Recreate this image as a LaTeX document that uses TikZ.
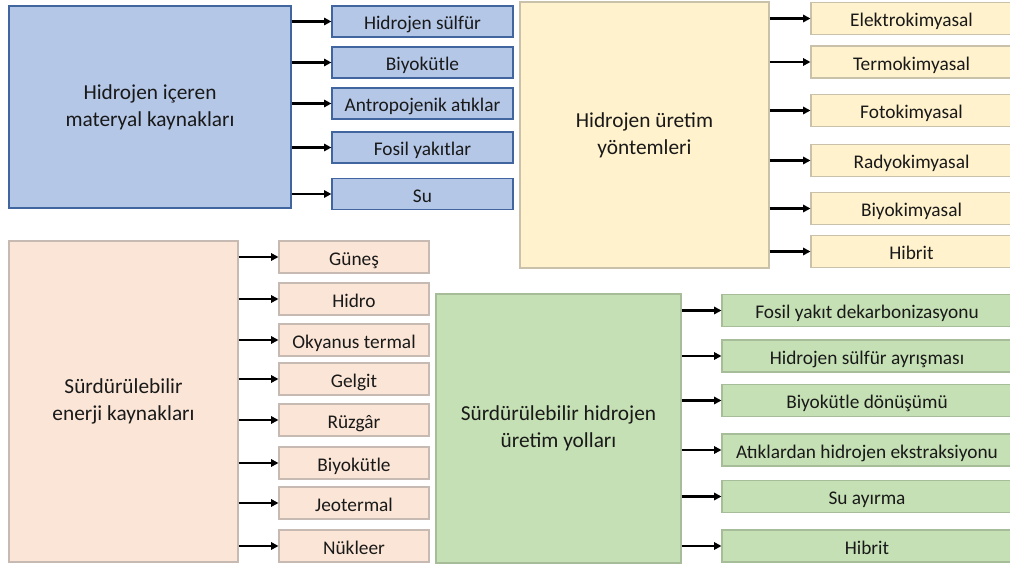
\documentclass[tikz,border=0pt]{standalone}
\usepackage{fontspec}
\setmainfont{Carlito}
\usetikzlibrary{arrows.meta}

\definecolor{bluefill}{HTML}{B4C7E7}
\definecolor{blueedge}{HTML}{41659F}
\definecolor{yelfill}{HTML}{FFF2CC}
\definecolor{yeledge}{HTML}{C9C1AA}
\definecolor{peachfill}{HTML}{FBE5D6}
\definecolor{peachedge}{HTML}{C6BAB2}
\definecolor{greenfill}{HTML}{C5E0B4}
\definecolor{greenedge}{HTML}{A7BD99}

\begin{document}
\begin{tikzpicture}[x=0.75pt, y=-0.75pt,
  bigbox/.style={rectangle, align=center, text=black!90, font=\fontsize{16}{20}\selectfont},
  itembox/.style={rectangle, align=center, text=black!90, minimum height=24pt,
    inner sep=0pt, text height=13pt, text depth=1pt, font=\fontsize{14.5}{16}\selectfont},
  blueset/.style={draw=blueedge, fill=bluefill, line width=0.9pt},
  yelset/.style={draw=yeledge, fill=yelfill, line width=0.8pt},
  peachset/.style={draw=peachedge, fill=peachfill, line width=0.8pt},
  greenset/.style={draw=greenedge, fill=greenfill, line width=0.8pt},
  arr/.style={-{Triangle[length=5.5pt, width=5.5pt]}, line width=1.6pt, black}
]
  \useasboundingbox (0,0) rectangle (1010,567);

  % Hidrojen iceren materyal kaynaklari
  \node[bigbox, blueset, minimum width=211.5pt, minimum height=151.5pt] (mat) at (150,107)
    {Hidrojen içeren\\materyal kaynakları};
  \node[itembox, blueset, minimum width=135.75pt, minimum height=23.25pt] (mat1) at (422.5,21.5)  {Hidrojen sülfür};
  \node[itembox, blueset, minimum width=135.75pt, minimum height=23.25pt] (mat2) at (422.5,62.5)  {Biyokütle};
  \node[itembox, blueset, minimum width=135.75pt, minimum height=23.25pt] (mat3) at (422.5,103.5) {Antropojenik atıklar};
  \node[itembox, blueset, minimum width=135.75pt, minimum height=23.25pt] (mat4) at (422.5,147.5) {Fosil yakıtlar};
  \node[itembox, blueset, minimum width=135.75pt, minimum height=23.25pt] (mat5) at (422.5,194)   {Su};

  % Hidrojen uretim yontemleri
  \node[bigbox, yelset, minimum width=186.75pt, minimum height=199.5pt] (ure) at (644.5,135)
    {Hidrojen üretim\\yöntemleri};
  \node[itembox, yelset, minimum width=150.75pt] (ure1) at (911.5,18.5)  {Elektrokimyasal};
  \node[itembox, yelset, minimum width=150.75pt] (ure2) at (911.5,62)    {Termokimyasal};
  \node[itembox, yelset, minimum width=150.75pt] (ure3) at (911.5,110.5) {Fotokimyasal};
  \node[itembox, yelset, minimum width=150.75pt] (ure4) at (911.5,160.5) {Radyokimyasal};
  \node[itembox, yelset, minimum width=150.75pt] (ure5) at (911.5,208.5) {Biyokimyasal};
  \node[itembox, yelset, minimum width=150.75pt] (ure6) at (911.5,251.5) {Hibrit};

  % Surdurulebilir enerji kaynaklari
  \node[bigbox, peachset, minimum width=171.75pt, minimum height=240.75pt] (enj) at (123.5,401.5)
    {Sürdürülebilir\\enerji kaynakları};
  \node[itembox, peachset, minimum width=112.5pt] (enj1) at (354,257) {Güneş};
  \node[itembox, peachset, minimum width=112.5pt] (enj2) at (354,299) {Hidro};
  \node[itembox, peachset, minimum width=112.5pt] (enj3) at (354,340) {Okyanus termal};
  \node[itembox, peachset, minimum width=112.5pt] (enj4) at (354,379) {Gelgit};
  \node[itembox, peachset, minimum width=112.5pt] (enj5) at (354,420) {Rüzgâr};
  \node[itembox, peachset, minimum width=112.5pt] (enj6) at (354,463) {Biyokütle};
  \node[itembox, peachset, minimum width=112.5pt] (enj7) at (354,503) {Jeotermal};
  \node[itembox, peachset, minimum width=112.5pt] (enj8) at (354,546) {Nükleer};

  % Surdurulebilir hidrojen uretim yollari
  \node[bigbox, greenset, minimum width=183.75pt, minimum height=201.75pt] (yol) at (558.5,428.5)
    {Sürdürülebilir hidrojen\\üretim yolları};
  \node[itembox, greenset, minimum width=217.5pt] (yol1) at (867,310.5) {Fosil yakıt dekarbonizasyonu};
  \node[itembox, greenset, minimum width=217.5pt] (yol2) at (867,356)   {Hidrojen sülfür ayrışması};
  \node[itembox, greenset, minimum width=217.5pt] (yol3) at (867,400.5) {Biyokütle dönüşümü};
  \node[itembox, greenset, minimum width=217.5pt] (yol4) at (867,450)   {Atıklardan hidrojen ekstraksiyonu};
  \node[itembox, greenset, minimum width=217.5pt] (yol5) at (867,496.5) {Su ayırma};
  \node[itembox, greenset, minimum width=217.5pt] (yol6) at (867,546)   {Hibrit};

  \draw[arr] (mat.east |- mat1) -- (mat1);
  \draw[arr] (mat.east |- mat2) -- (mat2);
  \draw[arr] (mat.east |- mat3) -- (mat3);
  \draw[arr] (mat.east |- mat4) -- (mat4);
  \draw[arr] (mat.east |- mat5) -- (mat5);

  \draw[arr] (ure.east |- ure1) -- (ure1);
  \draw[arr] (ure.east |- ure2) -- (ure2);
  \draw[arr] (ure.east |- ure3) -- (ure3);
  \draw[arr] (ure.east |- ure4) -- (ure4);
  \draw[arr] (ure.east |- ure5) -- (ure5);
  \draw[arr] (ure.east |- ure6) -- (ure6);

  \draw[arr] (enj.east |- enj1) -- (enj1);
  \draw[arr] (enj.east |- enj2) -- (enj2);
  \draw[arr] (enj.east |- enj3) -- (enj3);
  \draw[arr] (enj.east |- enj4) -- (enj4);
  \draw[arr] (enj.east |- enj5) -- (enj5);
  \draw[arr] (enj.east |- enj6) -- (enj6);
  \draw[arr] (enj.east |- enj7) -- (enj7);
  \draw[arr] (enj.east |- enj8) -- (enj8);

  \draw[arr] (yol.east |- yol1) -- (yol1);
  \draw[arr] (yol.east |- yol2) -- (yol2);
  \draw[arr] (yol.east |- yol3) -- (yol3);
  \draw[arr] (yol.east |- yol4) -- (yol4);
  \draw[arr] (yol.east |- yol5) -- (yol5);
  \draw[arr] (yol.east |- yol6) -- (yol6);
\end{tikzpicture}
\end{document}
